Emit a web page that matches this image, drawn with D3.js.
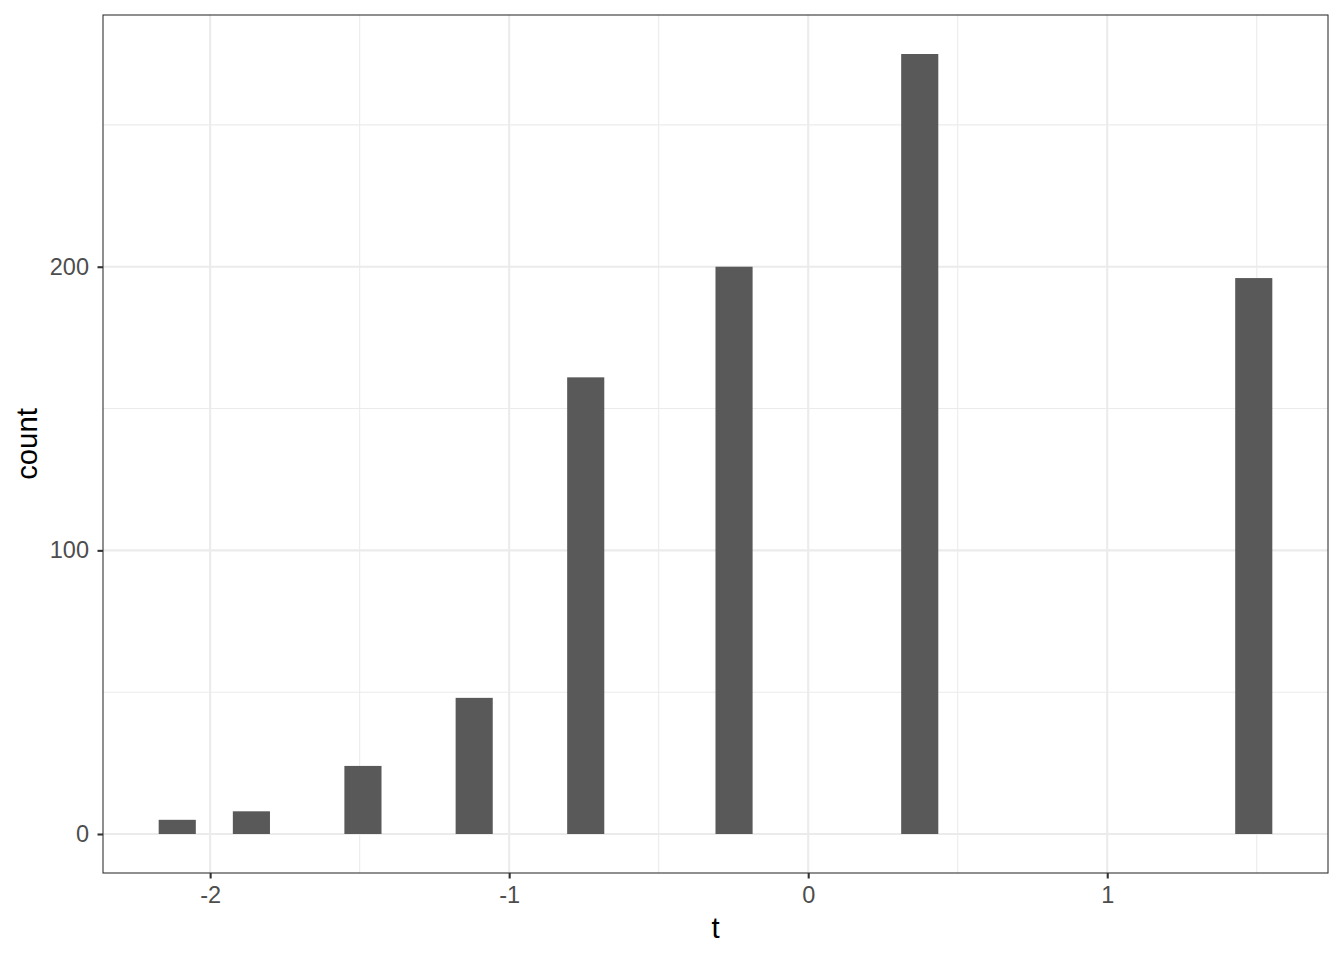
<!DOCTYPE html>
<html>
<head>
<meta charset="utf-8">
<script src="https://cdn.jsdelivr.net/npm/d3@7"></script>
<style>
html,body{margin:0;padding:0;background:#fff;}
svg{display:block;}
text{font-family:"Liberation Sans", Arial, Helvetica, sans-serif;}
</style>
</head>
<body>
<svg id="chart" width="1344" height="960"></svg>
<script>
// Histogram bins (30 bins, only non-empty ones listed)
const binWidth = 0.12414;
const binCenters = [-2.110, -1.862, -1.489, -1.117, -0.744, -0.248, 0.373, 1.490];
const counts = [5, 8, 24, 48, 161, 200, 275, 196];
const xTicks = [-2, -1, 0, 1];
const xMinor = [-1.5, -0.5, 0.5, 1.5];
const yTicks = [0, 100, 200];
const yMinor = [50, 150, 250];
const xTitle = "t";
const yTitle = "count";

const svg = d3.select("#chart");
const W = 1344, H = 960;
const m = {left: 103, right: 16, top: 15, bottom: 87};
const pw = W - m.left - m.right, ph = H - m.top - m.bottom;

const xmin = d3.min(binCenters) - binWidth / 2, xmax = d3.max(binCenters) + binWidth / 2;
const xpad = (xmax - xmin) * 0.05;
const x = d3.scaleLinear().domain([xmin - xpad, xmax + xpad]).range([m.left, m.left + pw]);
const ymax = d3.max(counts);
const ypad = ymax * 0.05;
const y = d3.scaleLinear().domain([-ypad, ymax + ypad]).range([m.top + ph, m.top]);

const g = svg.append("g");
g.append("rect").attr("x", m.left).attr("y", m.top).attr("width", pw).attr("height", ph).attr("fill", "#fff");

// minor grid
g.selectAll(".xminor").data(xMinor).enter().append("line")
  .attr("x1", d => x(d)).attr("x2", d => x(d)).attr("y1", m.top).attr("y2", m.top + ph)
  .attr("stroke", "#EBEBEB").attr("stroke-width", 1.1);
g.selectAll(".yminor").data(yMinor).enter().append("line")
  .attr("y1", d => y(d)).attr("y2", d => y(d)).attr("x1", m.left).attr("x2", m.left + pw)
  .attr("stroke", "#EBEBEB").attr("stroke-width", 1.1);
// major grid
g.selectAll(".xmajor").data(xTicks).enter().append("line")
  .attr("x1", d => x(d)).attr("x2", d => x(d)).attr("y1", m.top).attr("y2", m.top + ph)
  .attr("stroke", "#EBEBEB").attr("stroke-width", 2.1);
g.selectAll(".ymajor").data(yTicks).enter().append("line")
  .attr("y1", d => y(d)).attr("y2", d => y(d)).attr("x1", m.left).attr("x2", m.left + pw)
  .attr("stroke", "#EBEBEB").attr("stroke-width", 2.1);

// bars
g.selectAll(".bar").data(binCenters).enter().append("rect")
  .attr("x", d => x(d - binWidth / 2))
  .attr("width", d => x(d + binWidth / 2) - x(d - binWidth / 2))
  .attr("y", (d, i) => y(counts[i]))
  .attr("height", (d, i) => y(0) - y(counts[i]))
  .attr("fill", "#595959");

// panel border
g.append("rect").attr("x", m.left).attr("y", m.top).attr("width", pw).attr("height", ph)
  .attr("fill", "none").attr("stroke", "#333333").attr("stroke-width", 1.1);

// axes
const xAxis = d3.axisBottom(x).tickValues(xTicks).tickSize(5.5).tickPadding(7.5).tickFormat(d3.format("d"));
const xg = svg.append("g").attr("transform", `translate(0,${m.top + ph})`).call(xAxis);
const yAxis = d3.axisLeft(y).tickValues(yTicks).tickSize(5.5).tickPadding(8.5).tickFormat(d3.format("d"));
const yg = svg.append("g").attr("transform", `translate(${m.left},0)`).call(yAxis);
[xg, yg].forEach(a => {
  a.select(".domain").remove();
  a.selectAll(".tick line").attr("stroke", "#333333").attr("stroke-width", 2.1);
  a.selectAll(".tick text").attr("fill", "#4D4D4D").style("font-size", "23.5px")
    .style("font-family", '"Liberation Sans", Arial, Helvetica, sans-serif');
});
xg.selectAll(".tick text").text(d => d < 0 ? "-" + Math.abs(d) : d);

// titles
svg.append("text").attr("x", m.left + pw / 2).attr("y", 938).attr("text-anchor", "middle")
  .attr("fill", "#000").style("font-size", "29.3px").text(xTitle);
svg.append("text").attr("transform", `translate(37,${m.top + ph / 2}) rotate(-90)`).attr("text-anchor", "middle")
  .attr("fill", "#000").style("font-size", "29.3px").text(yTitle);
</script>
</body>
</html>
